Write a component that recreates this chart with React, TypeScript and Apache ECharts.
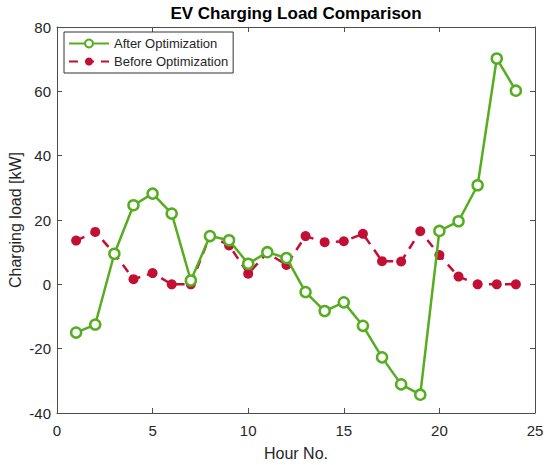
import React, { useEffect, useRef } from "react";
import * as echarts from "echarts";

const hours = [1, 2, 3, 4, 5, 6, 7, 8, 9, 10, 11, 12, 13, 14, 15, 16, 17, 18, 19, 20, 21, 22, 23, 24];
const afterOpt = [-15, -12.5, 9.5, 24.6, 28.2, 22, 1.2, 15, 13.7, 6.4, 10, 8.2, -2.4, -8.3, -5.6, -12.9, -22.7, -31.1, -34.3, 16.6, 19.6, 30.8, 70.2, 60.2];
const beforeOpt = [13.6, 16.3, 9.6, 1.6, 3.5, 0, 0, 15.1, 12.1, 3.3, 9.8, 6.0, 15, 13.1, 13.4, 15.7, 7.2, 7.1, 16.5, 9.1, 2.4, 0, 0, 0];
const xTicks = { min: 0, max: 25, interval: 5 };
const yTicks = { min: -40, max: 80, interval: 20 };

const GREEN = "#56ad1f";
const RED = "#c30f34";
const AXIS = "#4d4d4d";
const TEXT = "#262626";
const FONT = "Liberation Sans, Arial, sans-serif";

export default function App() {
  const ref = useRef<HTMLDivElement>(null);
  useEffect(() => {
    const chart = echarts.init(ref.current!, null, { renderer: "svg" });
    const axisCommon = {
      axisLine: { show: true, onZero: false, lineStyle: { color: AXIS, width: 1 } },
      axisTick: { show: true, inside: true, length: 5, lineStyle: { color: AXIS } },
      splitLine: { show: false },
    };
    chart.setOption({
      animation: false,
      backgroundColor: "#fff",
      textStyle: { fontFamily: FONT },
      title: {
        text: "EV Charging Load Comparison",
        left: 296,
        textAlign: "center",
        top: 5,
        padding: 0,
        textStyle: { fontSize: 17, fontWeight: "bold", color: "#000", fontFamily: FONT },
      },
      legend: {
        left: 64,
        top: 32,
        orient: "vertical",
        backgroundColor: "#fff",
        borderColor: "#333",
        borderWidth: 1,
        borderRadius: 0,
        padding: [5, 5, 5, 4],
        itemGap: 5,
        itemWidth: 40,
        itemHeight: 10,
        textStyle: { fontSize: 13, color: TEXT, fontFamily: FONT },
        data: ["After Optimization", "Before Optimization"],
      },
      grid: { left: 57, right: 15, top: 27, bottom: 52, containLabel: false, outerBoundsMode: "none" },
      xAxis: [
        {
          type: "value",
          position: "bottom",
          ...xTicks,
          name: "Hour No.",
          nameLocation: "middle",
          nameGap: 32,
          nameTextStyle: { fontSize: 16, color: TEXT, fontFamily: FONT },
          axisLabel: { fontSize: 15, color: TEXT, margin: 10, fontFamily: FONT },
          ...axisCommon,
        },
        {
          type: "value",
          position: "top",
          ...xTicks,
          axisLabel: { show: false },
          ...axisCommon,
        },
      ],
      yAxis: [
        {
          type: "value",
          position: "left",
          ...yTicks,
          name: "Charging load [kW]",
          nameLocation: "middle",
          nameGap: 34,
          nameMoveOverlap: false,
          nameTextStyle: { fontSize: 16, color: TEXT, fontFamily: FONT },
          axisLabel: { fontSize: 15, color: TEXT, margin: 6, fontFamily: FONT },
          ...axisCommon,
        },
        {
          type: "value",
          position: "right",
          ...yTicks,
          axisLabel: { show: false },
          ...axisCommon,
        },
      ],
      series: [
        {
          name: "Before Optimization",
          type: "line",
          data: hours.map((h, i) => [h, beforeOpt[i]]),
          symbol: "circle",
          symbolSize: 10,
          lineStyle: { color: RED, width: 2.5, type: [9, 7] },
          itemStyle: { color: RED, borderColor: RED, borderWidth: 0 },
          z: 2,
        },
        {
          name: "After Optimization",
          type: "line",
          data: hours.map((h, i) => [h, afterOpt[i]]),
          symbol: "circle",
          symbolSize: 10,
          showAllSymbol: true,
          lineStyle: { color: GREEN, width: 2.5 },
          itemStyle: { color: "#fff", borderColor: GREEN, borderWidth: 2.5 },
          z: 3,
        },
      ],
    });
    return () => chart.dispose();
  }, []);
  return <div ref={ref} style={{ position: "fixed", left: 0, top: 0, width: 550, height: 465 }} />;
}
